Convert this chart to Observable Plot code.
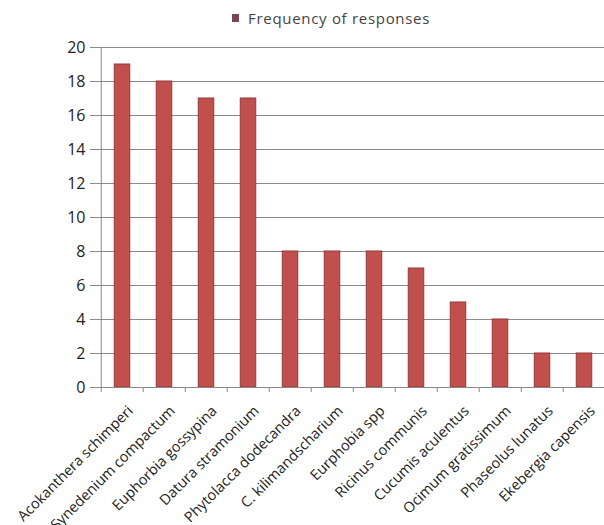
<!DOCTYPE html>
<html>
<head>
<meta charset="utf-8">
<script src="https://cdn.jsdelivr.net/npm/d3@7"></script>
<script src="https://cdn.jsdelivr.net/npm/@observablehq/plot@0.6"></script>
<style>
  html, body { margin: 0; padding: 0; background: #fff; overflow: hidden; width: 604px; }
  #legend { height: 35px; display: flex; align-items: center; padding-left: 232px; box-sizing: border-box;
    font-family: 'Open Sans', sans-serif; font-size: 15px; letter-spacing: 0.7px; color: #444; }
  #legend .sw { width: 7px; height: 8px; background: #7b4450; margin-right: 9px; }
</style>
</head>
<body>
<div id="legend"><span class="sw"></span><span>Frequency of responses</span></div>
<div id="chart"></div>
<script>
const seriesName = "Frequency of responses";
const categories = [
  "Acokanthera schimperi",
  "Synedenium compactum",
  "Euphorbia gossypina",
  "Datura stramonium",
  "Phytolacca dodecandra",
  "C. kilimandscharium",
  "Eurphobia spp",
  "Ricinus communis",
  "Cucumis aculentus",
  "Ocimum gratissimum",
  "Phaseolus lunatus",
  "Ekebergia capensis"
];
const values = [19, 18, 17, 17, 8, 8, 8, 7, 5, 4, 2, 2];
const yTicks = [0, 2, 4, 6, 8, 10, 12, 14, 16, 18, 20];

const data = categories.map((c, i) => ({category: c, value: values[i]}));
const step = 42.5;

const chart = Plot.plot({
  width: 604,
  height: 490,
  marginTop: 12,
  marginBottom: 138,
  marginLeft: 98,
  marginRight: -4,
  style: {fontFamily: "'Open Sans', sans-serif", fontSize: "16px", color: "#222", background: "#fff"},
  x: {domain: categories, padding: 0, axis: null},
  y: {domain: [0, 20], axis: null},
  marks: [
    Plot.gridY(yTicks, {stroke: "#8a8a8a", strokeOpacity: 1, strokeWidth: 1}),
    Plot.axisY(yTicks, {tickSize: 8, tickPadding: 5, fontSize: 16, stroke: "#8a8a8a", fill: "#222", label: null}),
    Plot.barY(data, {x: "category", y: "value", fill: "#C0504D", stroke: "#97373a", strokeWidth: 1, insetLeft: 13.25, insetRight: 13.25}),
    Plot.ruleY([0], {stroke: "#8a8a8a"}),
    Plot.ruleX(categories.slice(0, 1), {x: d => d, dx: -step / 2, y1: 0, y2: 20, stroke: "#8a8a8a"}),
    Plot.ruleX(categories, {x: d => d, dx: -step / 2, y1: -0.3, y2: 0, stroke: "#8a8a8a"}),
    Plot.text(categories, {x: d => d, y: 0, text: d => d, rotate: -45, textAnchor: "end", lineAnchor: "middle", dx: 8, dy: 21, fontSize: 14.5, fill: "#222"})
  ]
});
document.getElementById("chart").appendChild(chart);
</script>
</body>
</html>
